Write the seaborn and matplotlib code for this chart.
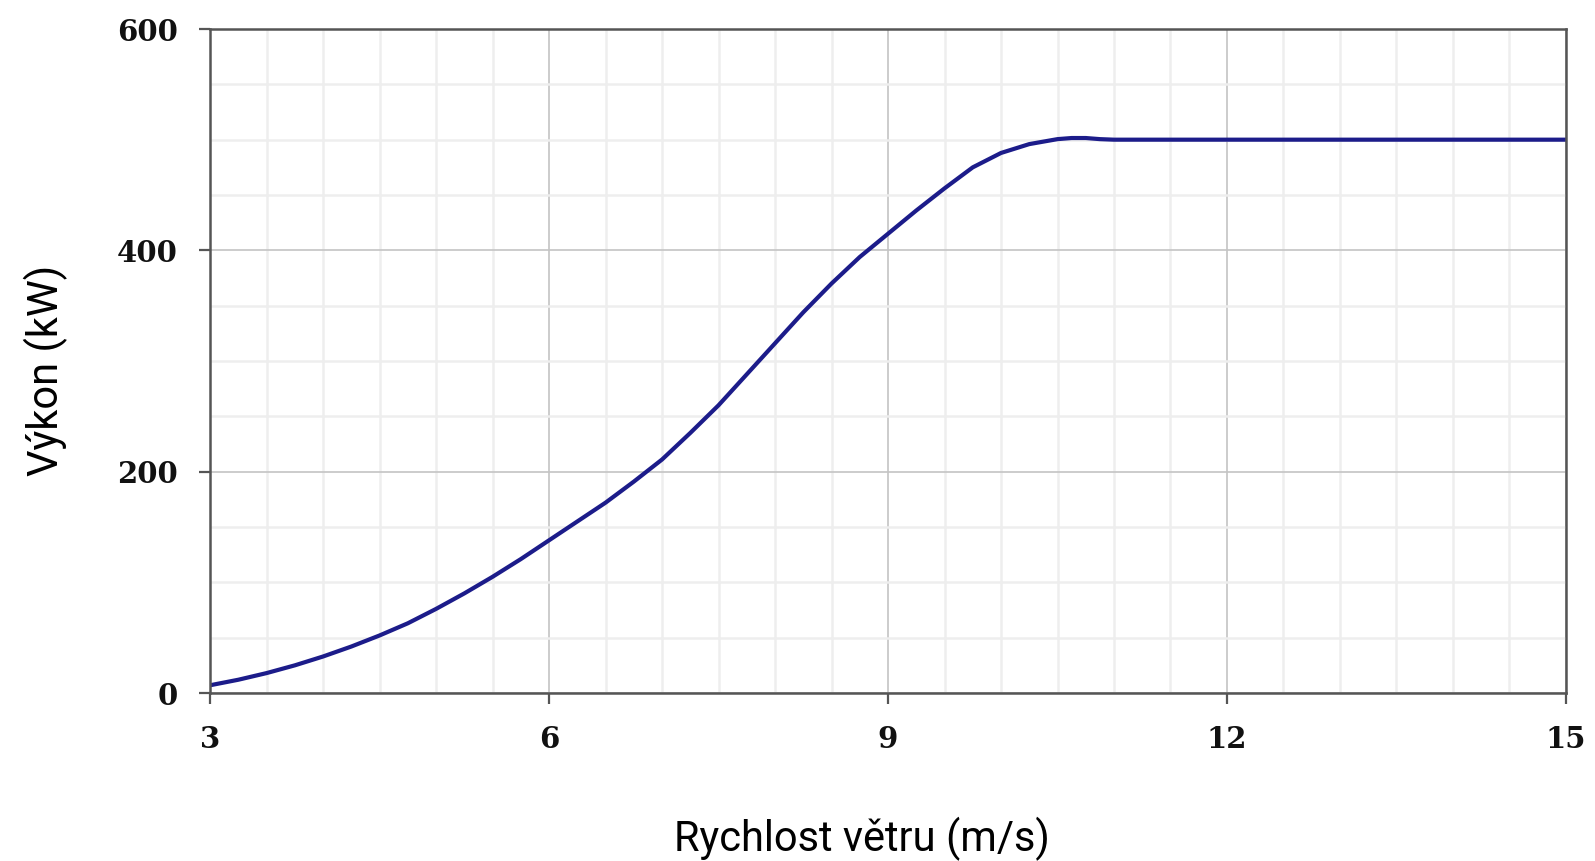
import numpy as np
import pandas as pd
import matplotlib
matplotlib.use('Agg')
import matplotlib.pyplot as plt
import seaborn as sns

# výkonová křivka větrné turbíny
rychlost = [3.0, 3.25, 3.5, 3.75, 4.0, 4.25, 4.5, 4.75, 5.0, 5.25, 5.5, 5.75,
            6.0, 6.25, 6.5, 6.75, 7.0, 7.25, 7.5, 7.75, 8.0, 8.25, 8.5, 8.75,
            9.0, 9.25, 9.5, 9.75, 10.0, 10.25, 10.5, 10.625, 10.75, 10.875, 11.0,
            12.0, 13.0, 14.0, 15.0]
vykon = [7, 12, 18, 25, 33, 42, 52, 63, 76, 90, 105, 121,
         138, 155, 172, 191, 211, 235, 260, 288, 316, 344, 370, 394,
         415, 436, 456, 475, 488, 496, 500.5, 501.5, 501.5, 500.5, 500,
         500, 500, 500, 500]
x_ticks = [3, 6, 9, 12, 15]
y_ticks = [0, 200, 400, 600]

df = pd.DataFrame({'rychlost': rychlost, 'vykon': vykon})

sns.set_theme(style="white")
plt.rcParams['font.family'] = ['DejaVu Sans']

fig = plt.figure(figsize=(15.95, 8.61), dpi=100)
ax = fig.add_axes([0.1317, 0.1951, 0.8501, 0.7712])

sns.lineplot(data=df, x='rychlost', y='vykon', ax=ax, color='#1c1c8a', linewidth=3.0)

ax.set_xlim(3, 15)
ax.set_ylim(0, 600)
ax.set_xticks(x_ticks)
ax.set_yticks(y_ticks)
ax.set_xticks(np.arange(3, 15.01, 0.5), minor=True)
ax.set_yticks(np.arange(0, 600.1, 50), minor=True)

ax.grid(which='minor', color='#eeeeee', linewidth=1.8, zorder=0)
ax.grid(which='major', color='#c4c4c4', linewidth=1.2, zorder=0)
ax.set_axisbelow(True)

for s in ax.spines.values():
    s.set_color('#555555')
    s.set_linewidth(1.8)

ax.tick_params(which='major', direction='out', length=8, width=1.6, color='#555555',
               pad=15, bottom=True, left=True)
ax.tick_params(which='minor', length=0)
for lab in ax.get_xticklabels() + ax.get_yticklabels():
    lab.set_family('DejaVu Serif')
    lab.set_fontweight('bold')
    lab.set_fontsize(21)
    lab.set_color('#111111')

ax.set_xlabel('Rychlost větru (m/s)', fontsize=30, color='black', family=['Roboto', 'DejaVu Sans'])
ax.set_ylabel('Výkon (kW)', fontsize=30, color='black', family=['Roboto', 'DejaVu Sans'])
ax.xaxis.set_label_coords(0.481, -0.186)
ax.yaxis.set_label_coords(-0.105, 0.486)

fig.savefig('out.png', dpi=100)
